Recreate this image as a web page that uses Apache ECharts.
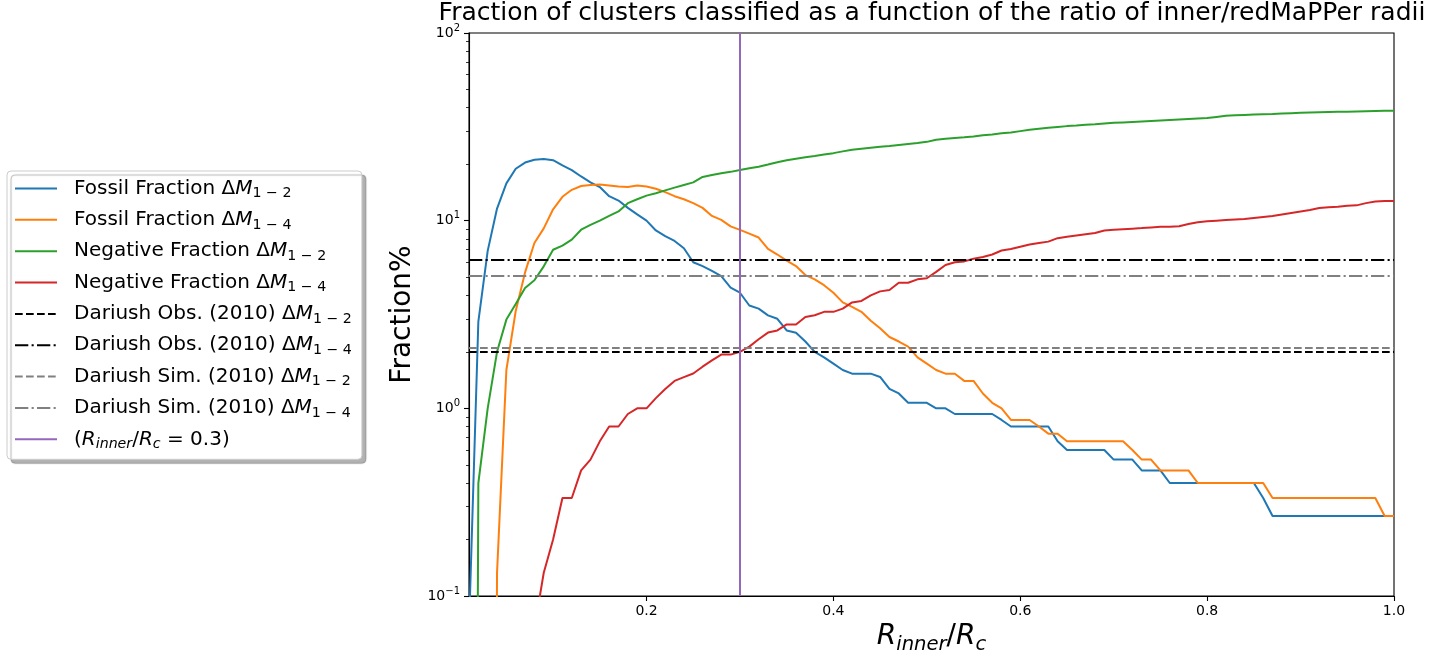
<!DOCTYPE html>
<html>
<head>
<meta charset="utf-8">
<script src="https://cdn.jsdelivr.net/npm/echarts@6/dist/echarts.min.js"></script>
<style>
  html, body { margin: 0; padding: 0; background: #ffffff; }
  #chart { width: 1435px; height: 655px; }
</style>
</head>
<body>
<div id="chart"></div>
<script>
// Ratio of inner radius to redMaPPer radius (x values of every curve)
const ratio = [
  0.01, 0.02, 0.03, 0.04, 0.05, 0.06, 0.07, 0.08, 0.09, 0.10,
  0.11, 0.12, 0.13, 0.14, 0.15, 0.16, 0.17, 0.18, 0.19, 0.20,
  0.21, 0.22, 0.23, 0.24, 0.25, 0.26, 0.27, 0.28, 0.29, 0.30,
  0.31, 0.32, 0.33, 0.34, 0.35, 0.36, 0.37, 0.38, 0.39, 0.40,
  0.41, 0.42, 0.43, 0.44, 0.45, 0.46, 0.47, 0.48, 0.49, 0.50,
  0.51, 0.52, 0.53, 0.54, 0.55, 0.56, 0.57, 0.58, 0.59, 0.60,
  0.61, 0.62, 0.63, 0.64, 0.65, 0.66, 0.67, 0.68, 0.69, 0.70,
  0.71, 0.72, 0.73, 0.74, 0.75, 0.76, 0.77, 0.78, 0.79, 0.80,
  0.81, 0.82, 0.83, 0.84, 0.85, 0.86, 0.87, 0.88, 0.89, 0.90,
  0.91, 0.92, 0.93, 0.94, 0.95, 0.96, 0.97, 0.98, 0.99, 1.00
];

// Fraction (%) of clusters classified as fossil, magnitude gap 1-2
const fossil12 = [
  0.067, 2.9, 6.9, 11.6, 15.8, 18.9, 20.4, 21.1, 21.3, 21.0,
  19.7, 18.6, 17.2, 16.0, 15.1, 13.5, 12.8, 11.7, 10.8, 10.0,
  8.87, 8.27, 7.8, 7.13, 6.0, 5.73, 5.4, 5.07, 4.4, 4.13,
  3.53, 3.4, 3.13, 3.0, 2.6, 2.53, 2.27, 2.0, 1.87, 1.73,
  1.6, 1.53, 1.53, 1.53, 1.47, 1.27, 1.2, 1.07, 1.07, 1.07,
  1.0, 1.0, 0.933, 0.933, 0.933, 0.933, 0.933, 0.867, 0.8, 0.8,
  0.8, 0.8, 0.8, 0.667, 0.6, 0.6, 0.6, 0.6, 0.6, 0.533,
  0.533, 0.533, 0.467, 0.467, 0.467, 0.4, 0.4, 0.4, 0.4, 0.4,
  0.4, 0.4, 0.4, 0.4, 0.4, 0.333, 0.267, 0.267, 0.267, 0.267,
  0.267, 0.267, 0.267, 0.267, 0.267, 0.267, 0.267, 0.267, 0.267, 0.267
];

// Fraction (%) of clusters classified as fossil, magnitude gap 1-4
const fossil14 = [
  0, 0, 0, 0.133, 1.6, 3.3, 5.3, 7.6, 9.1, 11.5,
  13.4, 14.6, 15.3, 15.5, 15.6, 15.4, 15.2, 15.1, 15.4, 15.2,
  14.8, 14.2, 13.5, 13.0, 12.4, 11.7, 10.6, 10.1, 9.33, 8.93,
  8.53, 8.13, 7.07, 6.6, 6.13, 5.73, 5.13, 4.87, 4.53, 4.13,
  3.67, 3.47, 3.27, 2.93, 2.67, 2.4, 2.27, 2.13, 1.87, 1.73,
  1.6, 1.53, 1.53, 1.4, 1.4, 1.2, 1.07, 1.0, 0.867, 0.867,
  0.867, 0.8, 0.733, 0.733, 0.667, 0.667, 0.667, 0.667, 0.667, 0.667,
  0.667, 0.6, 0.533, 0.533, 0.467, 0.467, 0.467, 0.467, 0.4, 0.4,
  0.4, 0.4, 0.4, 0.4, 0.4, 0.4, 0.333, 0.333, 0.333, 0.333,
  0.333, 0.333, 0.333, 0.333, 0.333, 0.333, 0.333, 0.333, 0.267, 0.267
];

// Fraction (%) of clusters with a negative magnitude gap 1-2
const negative12 = [
  0, 0.4, 1.0, 2.0, 2.97, 3.6, 4.38, 4.81, 5.71, 7.0,
  7.37, 7.93, 8.95, 9.5, 10.0, 10.6, 11.2, 12.4, 13.0, 13.6,
  14.0, 14.5, 15.0, 15.5, 16.0, 17.1, 17.5, 17.9, 18.2, 18.6,
  19.0, 19.4, 19.9, 20.5, 21.0, 21.4, 21.8, 22.1, 22.5, 22.9,
  23.4, 23.9, 24.2, 24.5, 24.8, 25.0, 25.3, 25.6, 25.9, 26.3,
  27.0, 27.3, 27.6, 27.8, 28.1, 28.5, 28.8, 29.2, 29.5, 30.0,
  30.5, 30.9, 31.3, 31.6, 31.9, 32.1, 32.4, 32.6, 32.9, 33.2,
  33.4, 33.6, 33.8, 34.0, 34.2, 34.4, 34.6, 34.8, 35.0, 35.2,
  35.7, 36.2, 36.4, 36.6, 36.8, 36.9, 37.0, 37.2, 37.4, 37.6,
  37.7, 37.8, 37.9, 38.0, 38.1, 38.2, 38.3, 38.4, 38.5, 38.5
];

// Fraction (%) of clusters with a negative magnitude gap 1-4
const negative14 = [
  0, 0, 0, 0, 0, 0, 0, 0.067, 0.133, 0.2,
  0.333, 0.333, 0.467, 0.533, 0.667, 0.8, 0.8, 0.933, 1.0, 1.0,
  1.133, 1.267, 1.4, 1.467, 1.533, 1.667, 1.8, 1.933, 1.933, 2.0,
  2.133, 2.333, 2.533, 2.6, 2.8, 2.8, 3.067, 3.133, 3.267, 3.267,
  3.4, 3.667, 3.733, 4.0, 4.2, 4.267, 4.667, 4.667, 4.867, 4.933,
  5.333, 5.8, 6.0, 6.067, 6.267, 6.4, 6.6, 6.933, 7.067, 7.267,
  7.467, 7.6, 7.733, 8.067, 8.2, 8.333, 8.467, 8.6, 8.867, 8.933,
  9.0, 9.067, 9.133, 9.2, 9.267, 9.267, 9.333, 9.6, 9.8, 9.933,
  10.0, 10.067, 10.133, 10.2, 10.333, 10.467, 10.6, 10.8, 11.0, 11.2,
  11.4, 11.667, 11.8, 11.867, 12.0, 12.067, 12.4, 12.667, 12.733, 12.733
];

// Reference fractions from Dariush et al. (2010), in %
const dariushObs12 = 2.0;
const dariushObs14 = 6.2;
const dariushSim12 = 2.1;
const dariushSim14 = 5.1;

// Chosen inner radius ratio
const innerRatio = 0.3;

// Axis ticks
const xTicks = [0.2, 0.4, 0.6, 0.8, 1.0];
const yTicks = [0.1, 1, 10, 100];
const yMinorTicks = [
  0.2, 0.3, 0.4, 0.5, 0.6, 0.7, 0.8, 0.9,
  2, 3, 4, 5, 6, 7, 8, 9,
  20, 30, 40, 50, 60, 70, 80, 90
];

const FONT = 'DejaVu Sans';
const C = {
  blue: '#1f77b4', orange: '#ff7f0e', green: '#2ca02c', red: '#d62728',
  purple: '#9467bd', black: '#000000', grey: '#808080'
};
const DASHED = [7.7, 3.3];
const DASHDOT = [13.3, 3.3, 2.1, 3.3];

// Empty bins have no value on a log scale; send them far below the axis
// so the curve falls straight off the bottom edge.
const EMPTY_BIN = 1e-12;
function toPairs(values) {
  return ratio.map((x, i) => [x, values[i] > 0 ? values[i] : EMPTY_BIN]);
}

const NAMES = {
  f12: 'Fossil Fraction ΔM1-2',
  f14: 'Fossil Fraction ΔM1-4',
  n12: 'Negative Fraction ΔM1-2',
  n14: 'Negative Fraction ΔM1-4',
  o12: 'Dariush Obs. (2010) ΔM1-2',
  o14: 'Dariush Obs. (2010) ΔM1-4',
  s12: 'Dariush Sim. (2010) ΔM1-2',
  s14: 'Dariush Sim. (2010) ΔM1-4',
  inner: '(Rinner/Rc = 0.3)'
};

const legendRich = {};
legendRich[NAMES.f12] = '{t|Fossil Fraction Δ}{m|M}{s|1 − 2}';
legendRich[NAMES.f14] = '{t|Fossil Fraction Δ}{m|M}{s|1 − 4}';
legendRich[NAMES.n12] = '{t|Negative Fraction Δ}{m|M}{s|1 − 2}';
legendRich[NAMES.n14] = '{t|Negative Fraction Δ}{m|M}{s|1 − 4}';
legendRich[NAMES.o12] = '{t|Dariush Obs. (2010) Δ}{m|M}{s|1 − 2}';
legendRich[NAMES.o14] = '{t|Dariush Obs. (2010) Δ}{m|M}{s|1 − 4}';
legendRich[NAMES.s12] = '{t|Dariush Sim. (2010) Δ}{m|M}{s|1 − 2}';
legendRich[NAMES.s14] = '{t|Dariush Sim. (2010) Δ}{m|M}{s|1 − 4}';
legendRich[NAMES.inner] = '{t|(}{m|R}{si|inner}{t|/}{m|R}{si|c}{t| = 0.3)}';

function curve(name, values, color) {
  return {
    name: name, type: 'line', data: toPairs(values),
    symbol: 'none', showSymbol: false, clip: true, z: 2,
    lineStyle: { color: color, width: 2 }, itemStyle: { color: color },
    emphasis: { disabled: true }
  };
}

function refLine(name, axisKey, value, color, dash, z) {
  const pos = {}; pos[axisKey] = value;
  return {
    name: name, type: 'line', data: [], symbol: 'none', z: z,
    lineStyle: { color: color, width: 2, type: dash }, itemStyle: { color: color },
    markLine: {
      silent: true, symbol: 'none', animation: false, label: { show: false },
      lineStyle: { color: color, width: 2, type: dash },
      emphasis: { disabled: true },
      data: [pos]
    }
  };
}

const axisLineStyle = { color: '#000', width: 1.1 };

const option = {
  animation: false,
  backgroundColor: '#ffffff',
  title: {
    text: 'Fraction of clusters classified as a function of the ratio of inner/redMaPPer radii',
    left: 932, top: 1, textAlign: 'center', padding: 0,
    textStyle: { fontFamily: FONT, fontSize: 25, fontWeight: 'normal', color: '#000' }
  },
  grid: {
    left: 469, top: 33, width: 925, height: 563,
    show: true, borderColor: '#000', borderWidth: 1.1, backgroundColor: 'transparent',
    containLabel: false, outerBoundsMode: 'none'
  },
  legend: {
    orient: 'vertical', left: 7, top: 171,
    itemWidth: 42, itemHeight: 14, itemGap: 9.35,
    padding: [7.5, 10, 8, 7],
    backgroundColor: '#ffffff', borderColor: '#cccccc', borderWidth: 1, borderRadius: 4,
    shadowColor: 'rgba(0,0,0,0.3)', shadowOffsetX: 4, shadowOffsetY: 4, shadowBlur: 1,
    selectedMode: false,
    itemStyle: { opacity: 0 },
    data: Object.values(NAMES),
    formatter: name => legendRich[name],
    textStyle: {
      padding: [0, 0, 0, 12],
      rich: {
        t: { fontFamily: FONT, fontSize: 20, color: '#000', lineHeight: 24 },
        m: { fontFamily: FONT, fontSize: 20, fontStyle: 'italic', color: '#000', lineHeight: 24 },
        s: { fontFamily: FONT, fontSize: 14.2, color: '#000', lineHeight: 14.7, verticalAlign: 'bottom' },
        si: { fontFamily: FONT, fontSize: 14.2, fontStyle: 'italic', color: '#000', lineHeight: 14.7, verticalAlign: 'bottom' }
      }
    }
  },
  xAxis: {
    type: 'value', min: 0.01, max: 1.0,
    axisLine: { show: true, onZero: false, lineStyle: axisLineStyle },
    axisTick: { show: true, length: 5, customValues: xTicks, lineStyle: axisLineStyle },
    axisLabel: {
      customValues: xTicks, formatter: v => v.toFixed(1), margin: 8,
      color: '#000', fontFamily: FONT, fontSize: 14
    },
    splitLine: { show: false },
    name: '{m|R}{s|inner}{t|/}{m|R}{s|c}',
    nameLocation: 'middle', nameGap: 22,
    nameTextStyle: {
      rich: {
        m: { fontFamily: FONT, fontSize: 28, fontStyle: 'italic', color: '#000', lineHeight: 36 },
        t: { fontFamily: FONT, fontSize: 28, color: '#000', lineHeight: 36 },
        s: { fontFamily: FONT, fontSize: 19.6, fontStyle: 'italic', color: '#000', lineHeight: 21, verticalAlign: 'bottom' }
      }
    }
  },
  yAxis: [
    {
      type: 'log', logBase: 10, min: 0.1, max: 100, position: 'left',
      axisLine: { show: true, onZero: false, lineStyle: axisLineStyle },
      axisTick: { show: true, length: 5, customValues: yTicks, lineStyle: axisLineStyle },
      axisLabel: {
        customValues: yTicks, margin: 9,
        formatter: v => {
          const e = Math.round(Math.log10(v));
          return '{b|10}{s|' + (e < 0 ? '−' + (-e) : e) + '}';
        },
        rich: {
          b: { fontFamily: FONT, fontSize: 14, color: '#000', lineHeight: 20 },
          s: { fontFamily: FONT, fontSize: 10, color: '#000', lineHeight: 10, verticalAlign: 'top' }
        }
      },
      splitLine: { show: false }, minorTick: { show: false },
      name: 'Fraction%', nameLocation: 'middle', nameGap: 48, nameRotate: 90,
      nameTextStyle: { fontFamily: FONT, fontSize: 28, color: '#000' }
    },
    {
      type: 'log', logBase: 10, min: 0.1, max: 100, position: 'left',
      axisLine: { show: false },
      axisTick: { show: true, length: 3, customValues: yMinorTicks, lineStyle: { color: '#000', width: 0.8 } },
      axisLabel: { show: false },
      splitLine: { show: false }
    }
  ],
  series: [
    curve(NAMES.f12, fossil12, C.blue),
    curve(NAMES.f14, fossil14, C.orange),
    curve(NAMES.n12, negative12, C.green),
    curve(NAMES.n14, negative14, C.red),
    refLine(NAMES.o12, 'yAxis', dariushObs12, C.black, DASHED, 3),
    refLine(NAMES.o14, 'yAxis', dariushObs14, C.black, DASHDOT, 3),
    refLine(NAMES.s12, 'yAxis', dariushSim12, C.grey, DASHED, 3),
    refLine(NAMES.s14, 'yAxis', dariushSim14, C.grey, DASHDOT, 3),
    refLine(NAMES.inner, 'xAxis', innerRatio, C.purple, 'solid', 4)
  ]
};

const chart = echarts.init(document.getElementById('chart'), null, { renderer: 'canvas' });
chart.setOption(option);
</script>
</body>
</html>
